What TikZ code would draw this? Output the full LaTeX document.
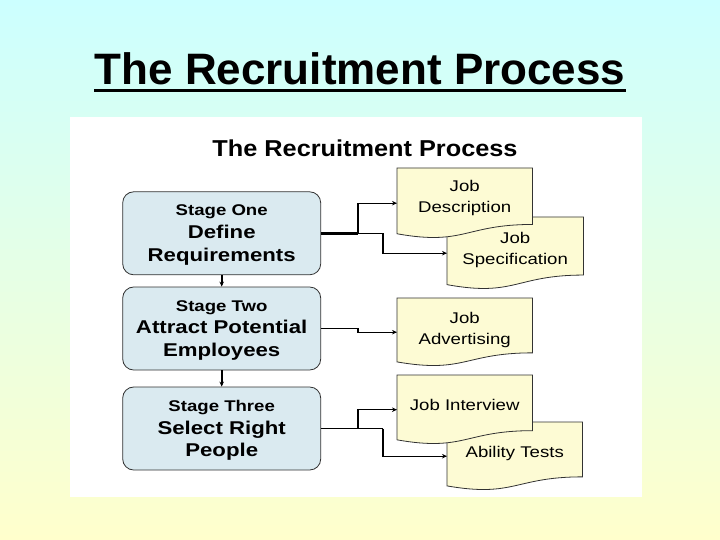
\documentclass[tikz,border=0pt]{standalone}
\usepackage{fontspec}
\setmainfont{Liberation Sans}
\newfontfamily\widefont[FakeStretch=1.2]{Liberation Sans}
\newfontfamily\titlewide[FakeStretch=1.1]{Liberation Sans}
\usetikzlibrary{arrows.meta,calc}
\definecolor{bgtop}{RGB}{204,255,255}
\definecolor{bgbot}{RGB}{255,255,204}
\definecolor{stagefill}{RGB}{218,234,240}
\definecolor{docfill}{RGB}{253,251,212}
\definecolor{edgecol}{RGB}{50,50,50}
\tikzset{
 stagebox/.style={draw=edgecol, line width=0.8pt, fill=stagefill, rounded corners=11pt, minimum width=198pt, minimum height=83pt, inner sep=0pt},
 stagetext/.style={inner sep=0pt, align=center, font=\widefont\bfseries\fontsize{18.5}{22.8}\selectfont},
 docbox/.style={draw=none, minimum width=135pt, inner sep=0pt, anchor=north west},
 docedge/.style={draw=edgecol, line width=0.8pt, fill=docfill},
 doctext/.style={align=center, font=\widefont\fontsize{15.5}{21}\selectfont, inner sep=0pt},
 conn/.style={draw=black, line width=1.3pt},
 arr/.style={conn, -{Stealth[length=5pt,width=4.5pt]}},
}
\newcommand{\docpath}[1]{%
  \path[docedge] (#1.north west) -- (#1.north east) -- ($(#1.north east)!0.802!(#1.south east)$) .. controls ($(#1.north)!0.802!(#1.south)$) and ($(#1.north)!1.107!(#1.south)$) .. ($(#1.north west)!0.934!(#1.south west)$) -- cycle;}
\begin{document}
\begin{tikzpicture}[x=1pt,y=-1pt]
\useasboundingbox (0,0) rectangle (720,540);
\shade[top color=bgtop,bottom color=bgbot] (0,0) rectangle (720,540);
\fill[white] (70,117) rectangle (642,497);
% main title
\node[anchor=base, font=\bfseries\fontsize{44}{50}\selectfont, inner sep=0pt] (title) at (360,85) {The Recruitment Process};
\draw[line width=2.5pt] ([yshift=-5.5pt]title.base west) -- ([yshift=-5.5pt]title.base east);
% inner title
\node[anchor=base, font=\titlewide\bfseries\fontsize{23}{28}\selectfont, inner sep=0pt] (sub) at (365,157) {The Recruitment Process};
% stages
\node[stagebox] (s1) at (221.7,233.3) {};
\node[stagebox] (s2) at (221.7,328.5) {};
\node[stagebox] (s3) at (221.7,428.5) {};
\node[stagetext] (s1t) at ([yshift=-2pt]s1.center) {{\fontsize{15.5}{22.8}\selectfont Stage One}\\Define\\Requirements};
\node[stagetext] (s2t) at ([yshift=-2pt]s2.center) {{\fontsize{15.5}{22.8}\selectfont Stage Two}\\Attract Potential\\Employees};
\node[stagetext] (s3t) at ([yshift=-2pt]s3.center) {{\fontsize{15.5}{22.8}\selectfont Stage Three}\\Select Right\\People};
% documents
\node[docbox, minimum width=136pt, minimum height=72pt] (js) at (447,217) {};
\docpath{js}
\node[docbox, minimum height=70pt] (jd) at (397,168) {};
\docpath{jd}
\node[docbox, minimum height=68pt] (ja) at (397,298) {};
\docpath{ja}
\node[docbox, minimum height=68pt] (at) at (447,422) {};
\docpath{at}
\node[docbox, minimum height=69pt] (ji) at (397,375) {};
\docpath{ji}
\node[doctext] (jdt) at ([yshift=5pt]jd.center) {Job\\Description};
\node[doctext] (jst) at ([yshift=3.5pt]js.center) {Job\\Specification};
\node[doctext] (jat) at ([yshift=2.5pt]ja.center) {Job\\Advertising};
\node[doctext] (jit) at ([yshift=4.5pt]ji.center) {Job Interview};
\node[doctext] (att) at ([yshift=2.5pt]at.center) {Ability Tests};
% connectors
\coordinate (k1) at (358,233.3);
\coordinate (k1b) at (383,233.3);
\draw[conn, line width=2.4pt] (s1.east) -- (k1);
\draw[arr] (k1) |- (jd.west);
\draw[arr] (k1) -- (k1b) |- (js.west);
\coordinate (k2) at (358,328.5);
\draw[arr] (s2.east) -- (k2) |- (ja.west);
\coordinate (k3) at (358,428.5);
\coordinate (k3b) at (383,428.5);
\draw[conn] (s3.east) -- (k3b);
\draw[arr] (k3) |- (ji.west);
\draw[arr] (k3b) |- (at.west);
\draw[arr, line width=1.6pt] (s1.south) -- (s2.north);
\draw[arr, line width=1.6pt] (s2.south) -- (s3.north);
\end{tikzpicture}
\end{document}
